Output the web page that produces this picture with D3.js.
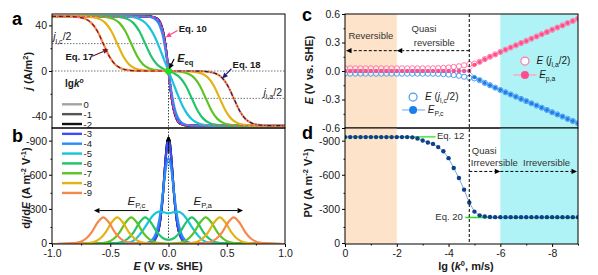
<!DOCTYPE html>
<html>
<head>
<meta charset="utf-8">
<script src="https://cdn.jsdelivr.net/npm/d3@7"></script>
<style>
  body { margin: 0; background: #fff; }
  svg { font-family: Arial, "Liberation Sans", sans-serif; }
</style>
</head>
<body>
<div id="fig"></div>
<script>
// ---------- data ----------
var lgkLabels = ["0", "-1", "-2", "-3", "-4", "-5", "-6", "-7", "-8", "-9"];
var lgkColors = ["#a3a3a3", "#555555", "#111111", "#3b4dff", "#2a8cf5", "#19c3dc",
                 "#1fc46b", "#5cc421", "#e1b313", "#f5884a"];

// panels a / b : potential E (V), current j (A/m2), dj/dE (A m-2 V-1)
var eRev = [-1, -0.2, -0.15, -0.1, -0.075, -0.05, -0.0375, -0.025, -0.0125, 0, 0.0125, 0.025, 0.0375, 0.05, 0.075, 0.1, 0.15, 0.2, 1];
var jRev = [48, 47.9, 47.7, 46.1, 43.1, 36.0, 29.9, 21.7, 11.4, 0, -11.4, -21.7, -29.9, -36.0, -43.1, -46.1, -47.7, -47.9, -48];
var dRev = [0, -2, -11, -74, -181, -409, -572, -745, -882, -935, -882, -745, -572, -409, -181, -74, -11, -2, 0];
var jK3 = [48, 47.9, 47.6, 45.9, 42.8, 35.6, 29.5, 21.3, 11.2, 0, -11.2, -21.3, -29.5, -35.6, -42.8, -45.9, -47.6, -47.9, -48];
var dK3 = [0, -2, -13, -77, -187, -412, -571, -736, -865, -917, -865, -736, -571, -412, -187, -77, -13, -2, 0];

var eK4 = [-1, -0.3, -0.2, -0.15, -0.1, -0.075, -0.05, -0.025, 0, 0.025, 0.05, 0.075, 0.1, 0.15, 0.2, 0.3, 1];
var jK4 = [48, 48, 47.8, 47.1, 44.0, 39.7, 31.5, 17.9, 0, -17.9, -31.5, -39.7, -44.0, -47.1, -47.8, -48, -48];
var dK4 = [0, 0, -6, -27, -120, -239, -430, -650, -755, -650, -430, -239, -120, -27, -6, 0, 0];

var eK5 = [-1, -0.5, -0.4, -0.35, -0.3, -0.25, -0.2, -0.16, -0.12, -0.08, -0.04, 0, 0.04, 0.08, 0.12, 0.16, 0.2, 0.25, 0.3, 0.35, 0.4, 0.5, 1];
var jK5 = [48, 48, 47.9, 47.7, 47.2, 45.6, 42.3, 37.5, 30.5, 21.0, 10.5, 0, -10.5, -21.0, -30.5, -37.5, -42.3, -45.6, -47.2, -47.7, -47.9, -48, -48];
var dK5 = [0, 0, -2, -9, -30, -78, -150, -215, -265, -285, -279, -270, -279, -285, -265, -215, -150, -78, -30, -9, -2, 0, 0];

var eK6 = [-1, -0.6, -0.5, -0.4, -0.35, -0.3, -0.25, -0.2, -0.15, -0.1, -0.05, 0, 0.05, 0.1, 0.15, 0.2, 0.25, 0.3, 0.35, 0.4, 0.5, 0.6, 1];
var jK6 = [48, 48, 47.9, 47.0, 45.5, 42.0, 34.8, 24.0, 13.2, 5.9, 2.1, 0, -2.1, -5.9, -13.2, -24.0, -34.8, -42.0, -45.5, -47.0, -47.9, -48, -48];
var dK6 = [0, 0, -3, -18, -46, -103, -187, -235, -188, -106, -53, -37, -53, -106, -188, -235, -187, -103, -46, -18, -3, 0, 0];

var eK7 = [-1, -0.72, -0.62, -0.52, -0.47, -0.42, -0.37, -0.32, -0.27, -0.22, -0.17, -0.12, -0.07, 0, 0.07, 0.12, 0.17, 0.22, 0.27, 0.32, 0.37, 0.42, 0.47, 0.52, 0.62, 0.72, 1];
var jK7 = [48, 48, 47.9, 47.0, 45.5, 42.0, 34.8, 24.0, 13.2, 6.0, 2.5, 1.0, 0.35, 0, -0.35, -1.0, -2.5, -6.0, -13.2, -24.0, -34.8, -42.0, -45.5, -47.0, -47.9, -48, -48];
var dK7 = [0, 0, -3, -18, -46, -103, -187, -235, -187, -103, -46, -18, -7, -3, -7, -18, -46, -103, -187, -235, -187, -103, -46, -18, -3, 0, 0];

var eK8 = [-1, -0.84, -0.74, -0.64, -0.59, -0.54, -0.49, -0.44, -0.39, -0.34, -0.29, -0.24, -0.14, 0, 0.14, 0.24, 0.29, 0.34, 0.39, 0.44, 0.49, 0.54, 0.59, 0.64, 0.74, 0.84, 1];
var jK8 = [48, 48, 47.9, 47.0, 45.5, 42.0, 34.8, 24.0, 13.2, 6.0, 2.5, 1.0, 0.1, 0, -0.1, -1.0, -2.5, -6.0, -13.2, -24.0, -34.8, -42.0, -45.5, -47.0, -47.9, -48, -48];
var dK8 = [0, 0, -3, -18, -46, -103, -187, -235, -187, -103, -46, -18, -3, 0, -3, -18, -46, -103, -187, -235, -187, -103, -46, -18, -3, 0, 0];

var eK9 = [-1, -0.96, -0.86, -0.76, -0.71, -0.66, -0.61, -0.56, -0.51, -0.46, -0.41, -0.36, -0.26, -0.16, 0, 0.16, 0.26, 0.36, 0.41, 0.46, 0.51, 0.56, 0.61, 0.66, 0.71, 0.76, 0.86, 0.96, 1];
var jK9 = [48, 48, 47.9, 47.0, 45.5, 42.0, 34.8, 24.0, 13.2, 6.0, 2.5, 1.0, 0.1, 0, 0, 0, -0.1, -1.0, -2.5, -6.0, -13.2, -24.0, -34.8, -42.0, -45.5, -47.0, -47.9, -48, -48];
var dK9 = [0, 0, -3, -18, -46, -103, -187, -235, -187, -103, -46, -18, -3, 0, 0, 0, -3, -18, -46, -103, -187, -235, -187, -103, -46, -18, -3, 0, 0];

var jHalf = 24; // j_l/2 levels

// panels c / d : lg k0 grid
var lgK = [0, -0.2, -0.4, -0.6, -0.8, -1, -1.2, -1.4, -1.6, -1.8, -2, -2.2, -2.4, -2.6, -2.8, -3, -3.2, -3.4, -3.6, -3.8,
           -4, -4.2, -4.4, -4.6, -4.8, -5, -5.2, -5.4, -5.6, -5.8, -6, -6.2, -6.4, -6.6, -6.8, -7, -7.2, -7.4, -7.6, -7.8,
           -8, -8.2, -8.4, -8.6, -8.8, -9];
var ePeakA = [0, 0, 0, 0, 0, 0, 0, 0, 0, 0, 0, 0, 0, 0, 0, 0, 0, 0, 0, 0, 0, 0, 0, 0, 0,
              0.065, 0.095, 0.125, 0.15, 0.175, 0.2, 0.224, 0.247, 0.27, 0.294, 0.317, 0.34, 0.364, 0.387, 0.41,
              0.434, 0.457, 0.48, 0.504, 0.527, 0.55];
var eHalfA = [0.028, 0.028, 0.028, 0.028, 0.028, 0.028, 0.028, 0.028, 0.028, 0.028, 0.028, 0.028, 0.028, 0.028, 0.028, 0.028, 0.028, 0.028,
              0.03, 0.033, 0.037, 0.043, 0.05, 0.06, 0.072,
              0.078, 0.097, 0.125, 0.15, 0.175, 0.2, 0.224, 0.247, 0.27, 0.294, 0.317, 0.34, 0.364, 0.387, 0.41,
              0.434, 0.457, 0.48, 0.504, 0.527, 0.55];
var ePeakC = [0, 0, 0, 0, 0, 0, 0, 0, 0, 0, 0, 0, 0, 0, 0, 0, 0, 0, 0, 0, 0, 0, 0, 0, 0,
              -0.065, -0.095, -0.125, -0.15, -0.175, -0.2, -0.224, -0.247, -0.27, -0.294, -0.317, -0.34, -0.364, -0.387, -0.41,
              -0.434, -0.457, -0.48, -0.504, -0.527, -0.55];
var eHalfC = [-0.028, -0.028, -0.028, -0.028, -0.028, -0.028, -0.028, -0.028, -0.028, -0.028, -0.028, -0.028, -0.028, -0.028, -0.028, -0.028, -0.028, -0.028,
              -0.03, -0.033, -0.037, -0.043, -0.05, -0.06, -0.072,
              -0.078, -0.097, -0.125, -0.15, -0.175, -0.2, -0.224, -0.247, -0.27, -0.294, -0.317, -0.34, -0.364, -0.387, -0.41,
              -0.434, -0.457, -0.48, -0.504, -0.527, -0.55];
var pv = [-940, -940, -940, -940, -940, -940, -940, -940, -940, -940, -940, -940, -940, -938,
          -928, -910, -893, -880, -852, -815, -755, -668, -580, -478, -365, -285, -252, -242, -238,
          -236, -236, -236, -236, -236, -236, -236, -236, -236, -236, -236, -236, -236, -236, -236, -236, -236];
var eq12 = -942, eq20 = -233;
var lgBoundary = -4.8;

// ---------- set up ----------
var W = 598, H = 275;
var svg = d3.select("#fig").append("svg").attr("width", W).attr("height", H);
svg.append("rect").attr("width", W).attr("height", H).attr("fill", "#fff");

var xE = d3.scaleLinear().domain([-1, 1]).range([52, 285]);
var yJ = d3.scaleLinear().domain([-50, 50]).range([128, 14]);
var yD = d3.scaleLinear().domain([0, -1020]).range([244, 128]);
var xK = d3.scaleLinear().domain([0, -9]).range([345, 578]);
var yE = d3.scaleLinear().domain([-0.6, 0.6]).range([128, 14]);
var yPV = d3.scaleLinear().domain([0, -1020]).range([244, 128]);

var curves = [
  { key: "0", e: eRev, j: jRev, d: dRev },
  { key: "-1", e: eRev, j: jRev, d: dRev },
  { key: "-2", e: eRev, j: jRev, d: dRev },
  { key: "-3", e: eRev, j: jK3, d: dK3 },
  { key: "-4", e: eK4, j: jK4, d: dK4 },
  { key: "-5", e: eK5, j: jK5, d: dK5 },
  { key: "-6", e: eK6, j: jK6, d: dK6 },
  { key: "-7", e: eK7, j: jK7, d: dK7 },
  { key: "-8", e: eK8, j: jK8, d: dK8 },
  { key: "-9", e: eK9, j: jK9, d: dK9 }
];
var color = d3.scaleOrdinal().domain(lgkLabels).range(lgkColors);
var fmt = function (d) { return String(d); };
var fmt1 = function (d) { return d.toFixed(1); };

var defs = svg.append("defs");
function clip(id, x0, y0, x1, y1) {
  defs.append("clipPath").attr("id", id).append("rect")
    .attr("x", x0).attr("y", y0).attr("width", x1 - x0).attr("height", y1 - y0);
}
clip("clipA", 52, 14, 285, 128);
clip("clipB", 52, 128, 285, 244);
clip("clipC", 345, 14, 578, 128);
clip("clipD", 345, 128, 578, 244);

// text with italic / sub / sup pieces
function rich(g, x, y, parts, size, anchor, weight, rotate) {
  var t = g.append("text").attr("x", x).attr("y", y)
    .attr("font-size", size).attr("text-anchor", anchor || "start")
    .attr("font-weight", weight || "normal").attr("fill", "#1a1a1a");
  if (rotate) t.attr("transform", "rotate(-90," + x + "," + y + ")");
  var shift = 0;
  parts.forEach(function (p) {
    var s = t.append("tspan").text(p.t);
    var want = p.sub ? size * 0.3 : p.sup ? -size * 0.4 : 0;
    if (want !== shift) { s.attr("dy", want - shift); shift = want; }
    if (p.sub || p.sup) s.attr("font-size", size * 0.68);
    if (p.i) s.attr("font-style", "italic");
  });
  return t;
}

function arrow(g, x1, y1, x2, y2, col, dash, w) {
  var a = Math.atan2(y2 - y1, x2 - x1), L = 5.5, hw = 2.6;
  var bx = x2 - L * Math.cos(a), by = y2 - L * Math.sin(a);
  g.append("line").attr("x1", x1).attr("y1", y1).attr("x2", bx).attr("y2", by)
    .attr("stroke", col).attr("stroke-width", w || 1.2).attr("stroke-dasharray", dash || null);
  g.append("path").attr("fill", col)
    .attr("d", "M" + x2 + "," + y2 +
      "L" + (bx + hw * Math.sin(a)) + "," + (by - hw * Math.cos(a)) +
      "L" + (bx - hw * Math.sin(a)) + "," + (by + hw * Math.cos(a)) + "Z");
}

function frame(x0, y0, x1, y1) {
  svg.append("rect").attr("x", x0).attr("y", y0).attr("width", x1 - x0).attr("height", y1 - y0)
    .attr("fill", "none").attr("stroke", "#000").attr("stroke-width", 1);
}

function styleAxis(g) {
  g.selectAll("path.domain").remove();
  g.selectAll("line").attr("stroke", "#000");
  g.selectAll("text").attr("font-size", 10.5).attr("fill", "#1a1a1a");
}

// ---------- panel a : j vs E ----------
var gA = svg.append("g").attr("clip-path", "url(#clipA)");
var lineJ = d3.line().curve(d3.curveMonotoneX)
  .x(function (p) { return xE(p[0]); }).y(function (p) { return yJ(p[1]); });

gA.append("line").attr("x1", xE(-1)).attr("x2", xE(1)).attr("y1", yJ(0)).attr("y2", yJ(0))
  .attr("stroke", "#777").attr("stroke-dasharray", "1.5,1.5");
gA.append("line").attr("x1", xE(-1)).attr("x2", xE(0)).attr("y1", yJ(jHalf)).attr("y2", yJ(jHalf))
  .attr("stroke", "#777").attr("stroke-dasharray", "1.5,1.5");
gA.append("line").attr("x1", xE(0)).attr("x2", xE(1)).attr("y1", yJ(-jHalf)).attr("y2", yJ(-jHalf))
  .attr("stroke", "#777").attr("stroke-dasharray", "1.5,1.5");
gA.append("line").attr("x1", xE(0)).attr("x2", xE(0)).attr("y1", yJ(0)).attr("y2", yJ(-50))
  .attr("stroke", "#444").attr("stroke-dasharray", "1.5,1.5");

curves.forEach(function (c) {
  gA.append("path").datum(d3.zip(c.e, c.j)).attr("d", lineJ)
    .attr("fill", "none").attr("stroke", color(c.key)).attr("stroke-width", 2.2);
});
// model overlays (Eq. 10 reversible, Eq. 17 / 18 irreversible)
gA.append("path").datum(d3.zip(eRev, jRev)).attr("d", lineJ)
  .attr("fill", "none").attr("stroke", "#ff3f93").attr("stroke-width", 1.3).attr("stroke-dasharray", "3,2");
var irr = d3.zip(eK9, jK9);
gA.append("path").datum(irr.filter(function (p) { return p[0] <= 0; })).attr("d", lineJ)
  .attr("fill", "none").attr("stroke", "#7a1420").attr("stroke-width", 1.2).attr("stroke-dasharray", "4,3");
gA.append("path").datum(irr.filter(function (p) { return p[0] >= 0; })).attr("d", lineJ)
  .attr("fill", "none").attr("stroke", "#1c1c72").attr("stroke-width", 1.2).attr("stroke-dasharray", "4,2,1,2");

gA.append("circle").attr("cx", xE(0)).attr("cy", yJ(0)).attr("r", 3.5).attr("fill", "#22e01e");

var annA = svg.append("g");
rich(annA, xE(-0.99), yJ(26.8), [{ t: "j", i: true }, { t: "l,c", sub: true }, { t: "/2" }], 10.5);
rich(annA, xE(0.815), yJ(-22), [{ t: "j", i: true }, { t: "l,a", sub: true }, { t: "/2" }], 10.5);
rich(annA, xE(0.088), yJ(34.5), [{ t: "Eq. 10" }], 9.5, "start", "bold");
arrow(annA, xE(0.077), yJ(35.5), xE(-0.024), yJ(29.5), "#ff3f93");
rich(annA, xE(-0.885), yJ(9.6), [{ t: "Eq. 17" }], 9.5, "start", "bold");
arrow(annA, xE(-0.655), yJ(13), xE(-0.515), yJ(19), "#7a1420");
rich(annA, xE(0.55), yJ(2.6), [{ t: "Eq. 18" }], 9.5, "start", "bold");
arrow(annA, xE(0.54), yJ(2), xE(0.462), yJ(-6.5), "#1c1c72");
rich(annA, xE(0.075), yJ(7.9), [{ t: "E", i: true }, { t: "eq", sub: true }], 11, "start", "bold");
arrow(annA, xE(0.048), yJ(10.5), xE(0.005), yJ(1.8), "#000");

frame(52, 14, 285, 128);
svg.append("g").attr("transform", "translate(52,0)")
  .call(d3.axisLeft(yJ).tickValues([-40, 0, 40]).tickFormat(fmt).tickSize(3).tickPadding(2))
  .call(styleAxis);
svg.append("g").attr("transform", "translate(52,0)")
  .call(d3.axisLeft(yJ).tickValues([-20, 20]).tickFormat("").tickSize(1.5))
  .call(styleAxis);

// ---------- panel b : dj/dE vs E ----------
var gB = svg.append("g").attr("clip-path", "url(#clipB)");
var lineD = d3.line().curve(d3.curveMonotoneX)
  .x(function (p) { return xE(p[0]); }).y(function (p) { return yD(p[1]); });
gB.append("line").attr("x1", xE(0)).attr("x2", xE(0)).attr("y1", yD(0)).attr("y2", yD(-1020))
  .attr("stroke", "#444").attr("stroke-dasharray", "1.5,1.5");
curves.forEach(function (c) {
  gB.append("path").datum(d3.zip(c.e, c.d)).attr("d", lineD)
    .attr("fill", "none").attr("stroke", color(c.key)).attr("stroke-width", 2.2);
});
arrow(gB, xE(0), yD(-800), xE(0), yD(-950), "#000", null, 0.8);

var annB = svg.append("g");
rich(annB, xE(-0.352), yD(-344), [{ t: "E", i: true }, { t: "P,c", sub: true }], 11.5);
arrow(annB, xE(-0.17), yD(-294), xE(-0.64), yD(-294), "#000", null, 1);
rich(annB, xE(0.215), yD(-344), [{ t: "E", i: true }, { t: "P,a", sub: true }], 11.5);
arrow(annB, xE(0.17), yD(-294), xE(0.64), yD(-294), "#000", null, 1);

frame(52, 128, 285, 244);
svg.append("g").attr("transform", "translate(52,-1)")
  .call(d3.axisLeft(yD).tickValues([0, -300, -600, -900]).tickFormat(fmt).tickSize(3).tickPadding(2))
  .call(styleAxis);
svg.append("g").attr("transform", "translate(52,0)")
  .call(d3.axisLeft(yD).tickValues([-150, -450, -750]).tickFormat("").tickSize(1.5))
  .call(styleAxis);
svg.append("g").attr("transform", "translate(0,244)")
  .call(d3.axisBottom(xE).tickValues([-1, -0.5, 0, 0.5, 1]).tickFormat(fmt1).tickSize(3).tickPadding(3))
  .call(styleAxis);
svg.append("g").attr("transform", "translate(0,244)")
  .call(d3.axisBottom(xE).tickValues([-0.75, -0.25, 0.25, 0.75]).tickFormat("").tickSize(1.5))
  .call(styleAxis);

// legend lgk0
var leg = svg.append("g");
rich(leg, 65, 87, [{ t: "lg" }, { t: "k", i: true }, { t: "o", sup: true, i: true }], 10, "start", "bold");
lgkLabels.forEach(function (k, i) {
  var y = 104.3 + i * 9.85;
  leg.append("line").attr("x1", 62).attr("x2", 82).attr("y1", y).attr("y2", y)
    .attr("stroke", color(k)).attr("stroke-width", 2.4);
  leg.append("text").attr("x", 83.5).attr("y", y + 3.5).attr("font-size", 9.5).attr("fill", "#1a1a1a").text(k);
});

// axis titles a / b
rich(svg, 32, 71, [{ t: "j", i: true }, { t: " (A/m" }, { t: "2", sup: true }, { t: ")" }], 11, "middle", "bold", true);
rich(svg, 30, 188, [{ t: "d" }, { t: "j", i: true }, { t: "/d" }, { t: "E", i: true }, { t: " (A m" }, { t: "-2", sup: true },
  { t: " V" }, { t: "-1", sup: true }, { t: ")" }], 11, "middle", "bold", true);
rich(svg, 168, 270, [{ t: "E", i: true }, { t: " (V " }, { t: "vs.", i: true }, { t: " SHE)" }], 11, "middle", "bold");

// ---------- panels c / d ----------
function bands(g, yTop, yBot) {
  g.append("rect").attr("x", xK(0)).attr("width", xK(-2) - xK(0)).attr("y", yTop).attr("height", yBot - yTop)
    .attr("fill", "#fde3c9");
  g.append("rect").attr("x", xK(-6)).attr("width", xK(-9) - xK(-6)).attr("y", yTop).attr("height", yBot - yTop)
    .attr("fill", "#b0f3f6");
}

var gC = svg.append("g").attr("clip-path", "url(#clipC)");
bands(gC, 14, 128);
var lineC = function (ys) {
  return d3.line().x(function (d, i) { return xK(lgK[i]); }).y(function (d) { return yE(d); })(ys);
};
var seriesC = [
  { half: eHalfC, peak: ePeakC, open: "#4d9cf2", fill: "#1a7fec", ln: "#7fb6f2" },
  { half: eHalfA, peak: ePeakA, open: "#ff78a6", fill: "#ff4c8b", ln: "#ff9dbf" }
];
seriesC.forEach(function (s) {
  gC.append("path").attr("d", lineC(s.peak)).attr("fill", "none").attr("stroke", s.ln).attr("stroke-width", 1);
  gC.selectAll(null).data(s.half).enter().append("circle")
    .attr("cx", function (d, i) { return xK(lgK[i]); }).attr("cy", function (d) { return yE(d); })
    .attr("r", 2.6).attr("fill", "#fff").attr("fill-opacity", 0.3).attr("stroke", s.open).attr("stroke-width", 1);
  gC.selectAll(null).data(s.peak).enter().append("circle")
    .attr("cx", function (d, i) { return xK(lgK[i]); }).attr("cy", function (d) { return yE(d); })
    .attr("r", 2).attr("fill", s.fill);
});

var annC = svg.append("g");
annC.append("text").attr("x", xK(-1)).attr("y", yE(0.337)).attr("text-anchor", "middle")
  .attr("font-size", 9.5).attr("fill", "#333").text("Reversible");
annC.append("text").attr("x", xK(-3.05)).attr("y", yE(0.41)).attr("text-anchor", "middle")
  .attr("font-size", 9.5).attr("fill", "#333").text("Quasi");
annC.append("text").attr("x", xK(-3.45)).attr("y", yE(0.263)).attr("text-anchor", "middle")
  .attr("font-size", 9.5).attr("fill", "#333").text("reversible");
arrow(annC, xK(lgBoundary), yE(0.214), xK(-2), yE(0.214), "#000", "3,2", 1);
arrow(annC, xK(-2), yE(0.214), xK(0) + 1, yE(0.214), "#000", "3,2", 1);

// legend c (right: anodic, left: cathodic)
annC.append("circle").attr("cx", xK(-6.95)).attr("cy", yE(0.105)).attr("r", 4)
  .attr("fill", "#fff").attr("stroke", "#ff78a6").attr("stroke-width", 1.2);
rich(annC, xK(-7.4), yE(0.072), [{ t: "E", i: true }, { t: " (" }, { t: "j", i: true }, { t: "l,a", sub: true }, { t: "/2)" }], 10);
annC.append("line").attr("x1", xK(-6.5)).attr("x2", xK(-7.4)).attr("y1", yE(-0.042)).attr("y2", yE(-0.042))
  .attr("stroke", "#ff9dbf").attr("stroke-width", 1.2);
annC.append("circle").attr("cx", xK(-6.95)).attr("cy", yE(-0.042)).attr("r", 4).attr("fill", "#ff4c8b");
rich(annC, xK(-7.5), yE(-0.075), [{ t: "E", i: true }, { t: "p,a", sub: true }], 10);

annC.append("circle").attr("cx", xK(-2.63)).attr("cy", yE(-0.274)).attr("r", 4)
  .attr("fill", "#fff").attr("stroke", "#4d9cf2").attr("stroke-width", 1.2);
rich(annC, xK(-3.09), yE(-0.307), [{ t: "E", i: true }, { t: " (" }, { t: "j", i: true }, { t: "l,c", sub: true }, { t: "/2)" }], 10);
annC.append("line").attr("x1", xK(-2.2)).attr("x2", xK(-3.1)).attr("y1", yE(-0.41)).attr("y2", yE(-0.41))
  .attr("stroke", "#7fb6f2").attr("stroke-width", 1.2);
annC.append("circle").attr("cx", xK(-2.63)).attr("cy", yE(-0.41)).attr("r", 4).attr("fill", "#1a7fec");
rich(annC, xK(-3.2), yE(-0.443), [{ t: "E", i: true }, { t: "P,c", sub: true }], 10);

frame(345, 14, 578, 128);
svg.append("g").attr("transform", "translate(345,0)")
  .call(d3.axisLeft(yE).tickValues([-0.6, -0.3, 0, 0.3, 0.6]).tickFormat(fmt1).tickSize(3).tickPadding(2))
  .call(styleAxis);
svg.append("g").attr("transform", "translate(345,0)")
  .call(d3.axisLeft(yE).tickValues([-0.45, -0.15, 0.15, 0.45]).tickFormat("").tickSize(1.5))
  .call(styleAxis);

// panel d : PV vs lg k0
var gD = svg.append("g").attr("clip-path", "url(#clipD)");
bands(gD, 128, 244);
gD.append("line").attr("x1", xK(0)).attr("x2", xK(-3.5)).attr("y1", yPV(eq12)).attr("y2", yPV(eq12))
  .attr("stroke", "#22e01e").attr("stroke-width", 1.3);
gD.append("line").attr("x1", xK(-4.65)).attr("x2", xK(-9)).attr("y1", yPV(eq20)).attr("y2", yPV(eq20))
  .attr("stroke", "#22e01e").attr("stroke-width", 1.3);
gD.append("path").datum(d3.zip(lgK, pv))
  .attr("d", d3.line().x(function (p) { return xK(p[0]); }).y(function (p) { return yPV(p[1]); }))
  .attr("fill", "none").attr("stroke", "#7aa7dc").attr("stroke-width", 1);
gD.selectAll(null).data(d3.zip(lgK, pv)).enter().append("circle")
  .attr("cx", function (p) { return xK(p[0]); }).attr("cy", function (p) { return yPV(p[1]); })
  .attr("r", 2.2).attr("fill", "#0f3f86");

var annD = svg.append("g");
annD.append("text").attr("x", xK(-3.55)).attr("y", yPV(-923)).attr("font-size", 9.5).attr("fill", "#333").text("Eq. 12");
annD.append("text").attr("x", xK(-4.55)).attr("y", yPV(-212)).attr("text-anchor", "end")
  .attr("font-size", 9.5).attr("fill", "#333").text("Eq. 20");
annD.append("text").attr("x", xK(-4.9)).attr("y", yPV(-794)).attr("font-size", 9.5).attr("fill", "#333").text("Quasi");
annD.append("text").attr("x", xK(-4.86)).attr("y", yPV(-688)).attr("font-size", 9.5).attr("fill", "#333").text("Irreversible");
annD.append("text").attr("x", xK(-6.88)).attr("y", yPV(-688)).attr("font-size", 9.5).attr("fill", "#333").text("Irreversible");
arrow(annD, xK(lgBoundary), yPV(-638), xK(-6), yPV(-638), "#000", "3,2", 1);
arrow(annD, xK(-6), yPV(-638), xK(-9) - 1, yPV(-638), "#000", "3,2", 1);

frame(345, 128, 578, 244);
svg.append("g").attr("transform", "translate(345,-1)")
  .call(d3.axisLeft(yPV).tickValues([0, -300, -600, -900]).tickFormat(fmt).tickSize(3).tickPadding(2))
  .call(styleAxis);
svg.append("g").attr("transform", "translate(345,0)")
  .call(d3.axisLeft(yPV).tickValues([-150, -450, -750]).tickFormat("").tickSize(1.5))
  .call(styleAxis);
svg.append("g").attr("transform", "translate(0,244)")
  .call(d3.axisBottom(xK).tickValues([0, -2, -4, -6, -8]).tickFormat(fmt).tickSize(3).tickPadding(3))
  .call(styleAxis);
svg.append("g").attr("transform", "translate(0,244)")
  .call(d3.axisBottom(xK).tickValues([-1, -3, -5, -7, -9]).tickFormat("").tickSize(1.5))
  .call(styleAxis);

// boundary between quasi-reversible and irreversible
svg.append("line").attr("x1", xK(lgBoundary)).attr("x2", xK(lgBoundary)).attr("y1", 14).attr("y2", 244)
  .attr("stroke", "#000").attr("stroke-width", 1).attr("stroke-dasharray", "3,2");

// axis titles c / d
rich(svg, 313, 70, [{ t: "E", i: true }, { t: " (V vs. SHE)" }], 11, "middle", "bold", true);
rich(svg, 312, 183, [{ t: "PV (A m" }, { t: "-2", sup: true }, { t: " V" }, { t: "-1", sup: true }, { t: ")" }],
  11, "middle", "bold", true);
rich(svg, 466, 270, [{ t: "lg (" }, { t: "k", i: true }, { t: "0", sup: true }, { t: ", m/s)" }], 11, "middle", "bold");

// panel letters
[["a", 12, 25], ["b", 12, 142], ["c", 302, 21], ["d", 302, 139]].forEach(function (p) {
  svg.append("text").attr("x", p[1]).attr("y", p[2]).attr("font-size", 18).attr("font-weight", "bold").text(p[0]);
});
</script>
</body>
</html>
